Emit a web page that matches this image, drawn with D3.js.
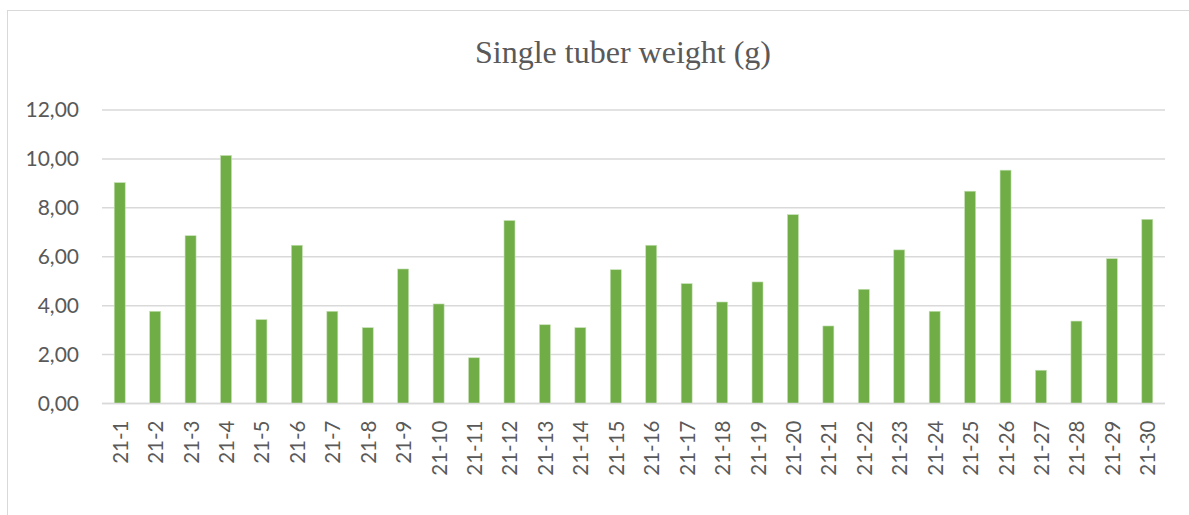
<!DOCTYPE html>
<html>
<head>
<meta charset="utf-8">
<script src="https://cdn.jsdelivr.net/npm/d3@7"></script>
<style>
  html, body { margin: 0; padding: 0; background: #fff; }
  svg { display: block; }
</style>
</head>
<body>
<svg id="chart" width="1189" height="515"></svg>
<script>
// Varieties (categories) and their single tuber weight in grams
const categories = ["21-1","21-2","21-3","21-4","21-5","21-6","21-7","21-8","21-9","21-10",
  "21-11","21-12","21-13","21-14","21-15","21-16","21-17","21-18","21-19","21-20",
  "21-21","21-22","21-23","21-24","21-25","21-26","21-27","21-28","21-29","21-30"];
const weights = [9.03, 3.77, 6.86, 10.14, 3.43, 6.47, 3.77, 3.10, 5.50, 4.07,
  1.87, 7.48, 3.22, 3.10, 5.47, 6.47, 4.90, 4.15, 4.97, 7.72,
  3.17, 4.67, 6.28, 3.77, 8.68, 9.54, 1.36, 3.37, 5.92, 7.53];
const yTicks = [0, 2, 4, 6, 8, 10, 12];
const title = "Single tuber weight (g)";

const svg = d3.select("#chart");
const plot = { left: 102, right: 1165, top: 110, bottom: 403.5 };

// Outer chart border (runs past the right and bottom edges)
svg.append("rect")
  .attr("x", 7.5).attr("y", 10.5)
  .attr("width", 1200).attr("height", 520)
  .attr("fill", "none").attr("stroke", "#d9d9d9").attr("stroke-width", 1);

const x = d3.scaleBand().domain(categories)
  .range([plot.left, plot.right]).paddingInner(0.69).paddingOuter(0.345);
const y = d3.scaleLinear().domain([0, 12]).range([plot.bottom, plot.top]);

// Horizontal gridlines
svg.append("g")
  .selectAll("line").data(yTicks).join("line")
  .attr("x1", plot.left).attr("x2", plot.right)
  .attr("y1", d => y(d)).attr("y2", d => y(d))
  .attr("stroke", "#d9d9d9").attr("stroke-width", 1.5);

// Y axis labels
const yAxis = d3.axisLeft(y).tickValues(yTicks)
  .tickFormat(d => d3.format(".2f")(d).replace(".", ","))
  .tickSize(0).tickPadding(23);
const gy = svg.append("g").attr("transform", `translate(${plot.left},0)`).call(yAxis);
gy.select(".domain").remove();
gy.selectAll("text")
  .attr("fill", "#595959")
  .style("font-family", "Lato, 'Open Sans', sans-serif")
  .style("font-size", "21px");

// Bars
svg.append("g")
  .selectAll("rect").data(weights).join("rect")
  .attr("x", (d, i) => x(categories[i]))
  .attr("width", x.bandwidth())
  .attr("y", d => y(d))
  .attr("height", d => y(0) - y(d))
  .attr("fill", "#70ad47")
  .attr("stroke", "#c5e0b4").attr("stroke-width", 0.6);

// Category axis with rotated labels
const xAxis = d3.axisBottom(x).tickSize(0).tickPadding(0);
const gx = svg.append("g").attr("transform", `translate(0,${plot.bottom})`).call(xAxis);
gx.select(".domain").attr("stroke", "#d9d9d9").attr("stroke-width", 1.5)
  .attr("d", `M${plot.left},0H${plot.right}`);
gx.selectAll("text")
  .attr("fill", "#595959")
  .style("font-family", "Lato, 'Open Sans', sans-serif")
  .style("font-size", "20.5px")
  .attr("text-anchor", "end")
  .attr("dy", null)
  .attr("transform", "translate(0,17) rotate(-90)")
  .attr("x", 0).attr("y", 0)
  .attr("dominant-baseline", "central");

// Title
svg.append("text")
  .attr("x", 623).attr("y", 63)
  .attr("text-anchor", "middle")
  .attr("fill", "#595959")
  .style("font-family", "'Liberation Serif', 'Times New Roman', serif")
  .style("font-size", "32px")
  .text(title);
</script>
</body>
</html>
